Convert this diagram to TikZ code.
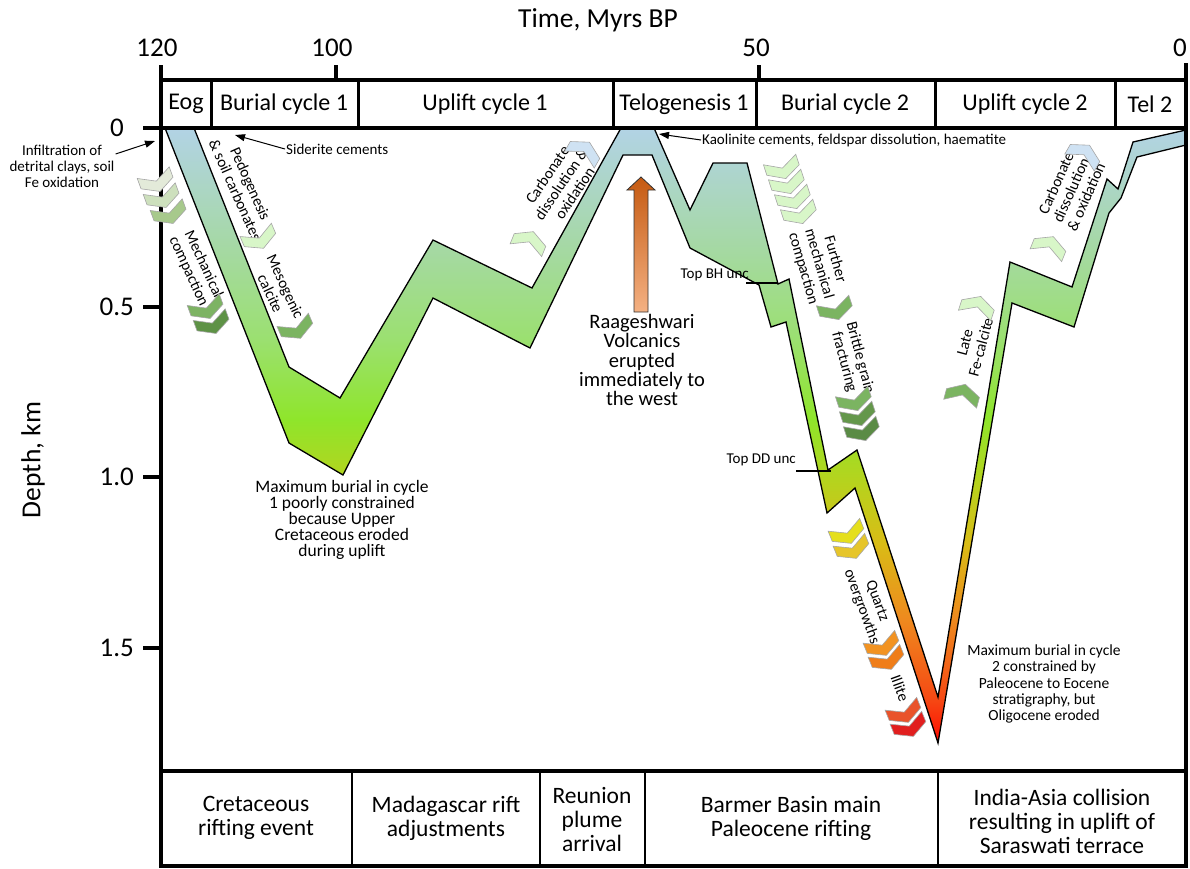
\documentclass[tikz,border=0pt]{standalone}
\usepackage{fontspec}
\setmainfont{Carlito}
\usetikzlibrary{arrows.meta}
\definecolor{sR}{HTML}{FF0A00}
\definecolor{sR2}{HTML}{F54A14}
\definecolor{sO}{HTML}{EE8A1E}
\definecolor{sY}{HTML}{D9BC16}
\definecolor{sYG}{HTML}{B4D41E}
\definecolor{sG}{HTML}{8FE52B}
\definecolor{sG2}{HTML}{9BE070}
\definecolor{sG3}{HTML}{A6D8A8}
\definecolor{sB}{HTML}{B2D3E5}
\definecolor{raagTop}{HTML}{C55A11}
\definecolor{raagBot}{HTML}{F4B183}
\definecolor{cA1}{HTML}{E3EAD9}
\definecolor{cA2}{HTML}{CDE0BD}
\definecolor{cA3}{HTML}{A7C98C}
\definecolor{cA4}{HTML}{7DB363}
\definecolor{cA5}{HTML}{5E9246}
\definecolor{cMint}{HTML}{D8F6C8}
\definecolor{cMid}{HTML}{7BB461}
\definecolor{cDk1}{HTML}{64974B}
\definecolor{cDk2}{HTML}{5A8B45}
\definecolor{cBlue}{HTML}{CFE2F3}
\definecolor{cY1}{HTML}{E5DF1C}
\definecolor{cY2}{HTML}{E6C52A}
\definecolor{cO1}{HTML}{F29322}
\definecolor{cO2}{HTML}{EF7D19}
\definecolor{cR1}{HTML}{E9532B}
\definecolor{cR2}{HTML}{E11F1F}
\pgfdeclareverticalshading{burial}{100bp}{color(0bp)=(sR); color(25bp)=(sR); color(28.65bp)=(sR2); color(35.13bp)=(sO); color(41.2bp)=(sY); color(46.5bp)=(sYG); color(51.3bp)=(sG); color(57.8bp)=(sG2); color(65.9bp)=(sG3); color(75bp)=(sB); color(100bp)=(sB)}
\newcommand\setfs[2]{\fontsize{#1}{#2}\selectfont}
\newcommand\mychev[4]{\path[chevbox, fill=#4, shift={(#1,#2)}, rotate=#3] (-11,-17) -- (0,-17) -- (9,0) -- (0,17) -- (-11,17) -- (-2,0) -- cycle;}
\tikzset{
  axisline/.style={line width=4pt},
  divider/.style={line width=3pt},
  bdivider/.style={line width=2.5pt},
  band/.style={shading=burial, draw=black, line width=1.3pt, line join=miter},
  lbl/.style={inner sep=1pt, align=center, font=\setfs{15.5}{16.5}},
  small/.style={inner sep=1pt, align=center, font=\setfs{15}{16}},
  head/.style={inner sep=1pt, font=\setfs{24}{26}},
  axtitle/.style={inner sep=1pt, font=\setfs{27.5}{30}},
  num/.style={inner sep=1pt, font=\setfs{27}{29}},
  bottomtxt/.style={inner sep=1pt, align=center, font=\setfs{23.5}{24}},
  arr/.style={line width=1pt, -{Triangle[length=10pt,width=7pt]}},
  chevbox/.style={draw=black!35, line width=0.6pt},
  ticklbl/.style={line width=2pt}
}
\begin{document}
\begin{tikzpicture}[x=1pt,y=-1pt]
\useasboundingbox (0,0) rectangle (1190,868);
\fill[white] (0,0) rectangle (1190,868);

% burial curve band
\shadedraw[band] (194,128) -- (289,367) -- (340,398) -- (433,240) -- (532,288) -- (621,128) -- (654,128) -- (690,210) -- (713,163) -- (747,163) -- (778,284) -- (789,279) -- (828,470) -- (857,450) -- (938,697) -- (1010,262) -- (1072,287) -- (1107,179) -- (1118,189) -- (1133,142) -- (1186,130) -- (1186,145) -- (1137,157) -- (1121,198) -- (1109,213) -- (1074,327) -- (1012,303) -- (938,743) -- (855,488) -- (827,513) -- (786,322) -- (771,327) -- (759,285) -- (690,248) -- (652,155) -- (623,155) -- (530,348) -- (433,298) -- (343,475) -- (289,443) -- (165,128) -- cycle;

% axes and frames
\draw[axisline] (161,65) -- (161,868);
\draw[axisline] (1186,63) -- (1186,868);
\draw[axisline] (159,80) -- (1188,80);
\draw[axisline] (143,128) -- (1188,128);
\draw[axisline] (159,771) -- (1188,771);
\draw[axisline] (159,866) -- (1188,866);
\draw[axisline] (336,65) -- (336,80);
\draw[axisline] (759,65) -- (759,80);
\draw[axisline] (143,307) -- (161,307);
\draw[axisline] (143,477) -- (161,477);
\draw[axisline] (143,648) -- (161,648);
\foreach \xx in {211,358,613,756,935,1115} \draw[divider] (\xx,80) -- (\xx,128);
\foreach \xx in {352,540,645,938} \draw[bdivider] (\xx,771) -- (\xx,866);

% axis labels
\node[axtitle] (title) at (598,20) {Time, Myrs BP};
\node[num] (t120) at (157,48) {120};
\node[num] (t100) at (332,48) {100};
\node[num] (t50) at (756,48) {50};
\node[num] (t0) at (1180,48) {0};
\node[num, anchor=east] (d0) at (125,128) {0};
\node[num, anchor=east] (d05) at (135,307) {0.5};
\node[num, anchor=east] (d10) at (135,477) {1.0};
\node[num, anchor=east] (d15) at (135,648) {1.5};
\node[axtitle, rotate=90] (dlab) at (33,460) {Depth, km};

% header cells
\node[head] (h1) at (186,104) {Eog};
\node[head] (h2) at (284,104) {Burial cycle 1};
\node[head] (h3) at (485,104) {Uplift cycle 1};
\node[head] (h4) at (684,104) {Telogenesis 1};
\node[head] (h5) at (845,104) {Burial cycle 2};
\node[head] (h6) at (1025,104) {Uplift cycle 2};
\node[head] (h7) at (1150,104) {Tel 2};

% bottom boxes
\node[bottomtxt] (b1) at (256,818) {Cretaceous\\rifting event};
\node[bottomtxt] (b2) at (446,818) {Madagascar rift\\adjustments};
\node[bottomtxt] (b3) at (592,819) {Reunion\\plume\\arrival};
\node[bottomtxt] (b4) at (791,818) {Barmer Basin main\\Paleocene rifting};
\node[bottomtxt] (b5) at (1062,821) {India-Asia collision\\resulting in uplift of\\Saraswati terrace};

% pointer labels
\node[small] (infil) at (62,166) {Infiltration of\\detrital clays, soil\\Fe oxidation};
\coordinate (inftip) at (155,141);
\draw[arr] ([yshift=12pt]infil.east) -- (inftip);
\node[small, anchor=west] (sid) at (285,149) {Siderite cements};
\coordinate (sidtip) at (235,135);
\draw[arr] (sid.west) -- (sidtip);
\node[small, anchor=west] (kao) at (701,140) {Kaolinite cements, feldspar dissolution, haematite};
\coordinate (kaotip) at (659,134);
\draw[arr] (kao.west) -- (kaotip);

% unconformity labels
\node[small, anchor=east] (bh) at (750,275) {Top BH unc};
\draw[ticklbl] (746,283) -- (778,283);
\node[small, anchor=east] (dd) at (797,460) {Top DD unc};
\draw[ticklbl] (796,471) -- (831,471);

% Raageshwari arrow
\shadedraw[top color=raagTop, bottom color=raagBot, draw=black!80, line width=0.8pt] (634,312) -- (634,190) -- (627,190) -- (641,177) -- (655,190) -- (648,190) -- (648,312) -- cycle;
\node[inner sep=1pt, align=center, font=\setfs{20.5}{19.3}] (raag) at (642,360) {Raageshwari\\Volcanics\\erupted\\immediately to\\the west};

% maximum burial notes
\node[inner sep=1pt, align=center, font=\setfs{17.5}{16.2}] (max1) at (342,520) {Maximum burial in cycle\\1 poorly constrained\\because Upper\\Cretaceous eroded\\during uplift};
\node[inner sep=1pt, align=center, font=\setfs{15.5}{16.3}] (max2) at (1044,684) {Maximum burial in cycle\\2 constrained by\\Paleocene to Eocene\\stratigraphy, but\\Oligocene eroded};

% process labels
\node[lbl, rotate=-65] (mech) at (196,268) {Mechanical\\compaction};
\node[lbl, rotate=-66] (pedo) at (243,187) {Pedogenesis\\\& soil carbonates};
\node[lbl, rotate=-65] (meso) at (278,290) {Mesogenic\\calcite};
\node[lbl, rotate=56] (carb1) at (561,184) {Carbonate\\dissolution \&\\oxidation};
\node[lbl, rotate=-74] (furth) at (819,264) {Further\\mechanical\\compaction};
\node[lbl, rotate=-75] (britt) at (852,360) {Brittle grain\\fracturing};
\node[lbl, rotate=-70] (qtz) at (869,604) {Quartz\\overgrowths};
\node[lbl, rotate=-70] (ill) at (900,688) {Illite};
\node[lbl, rotate=75] (late) at (973,345) {Late\\Fe-calcite};
\node[lbl, rotate=66] (carb2) at (1071,190) {Carbonate\\dissolution\\\& oxidation};

% chevrons
\mychev{157}{183}{-70}{cA1}
\mychev{163}{199}{-70}{cA2}
\mychev{170}{215}{-70}{cA3}
\mychev{207}{310}{-70}{cA4}
\mychev{213}{325}{-70}{cA5}
\mychev{260}{240}{-67}{cMint}
\mychev{297}{330}{-67}{cMid}
\mychev{530}{240}{68}{cMint}
\mychev{585}{150}{60}{cBlue}
\mychev{783}{170}{-72}{cMint}
\mychev{788}{185}{-72}{cMint}
\mychev{794}{200}{-72}{cMint}
\mychev{800}{215}{-72}{cMint}
\mychev{836}{311}{-72}{cMid}
\mychev{855}{402}{-72}{cMid}
\mychev{859}{417}{-72}{cDk1}
\mychev{863}{432}{-72}{cDk2}
\mychev{848}{535}{-68}{cY1}
\mychev{853}{550}{-68}{cY2}
\mychev{883}{647}{-68}{cO1}
\mychev{888}{661}{-68}{cO2}
\mychev{905}{714}{-68}{cR1}
\mychev{910}{728}{-68}{cR2}
\mychev{963}{393}{75}{cMid}
\mychev{978}{305}{72}{cMint}
\mychev{1050}{245}{68}{cMint}
\mychev{1085}{153}{60}{cBlue}
\end{tikzpicture}
\end{document}
